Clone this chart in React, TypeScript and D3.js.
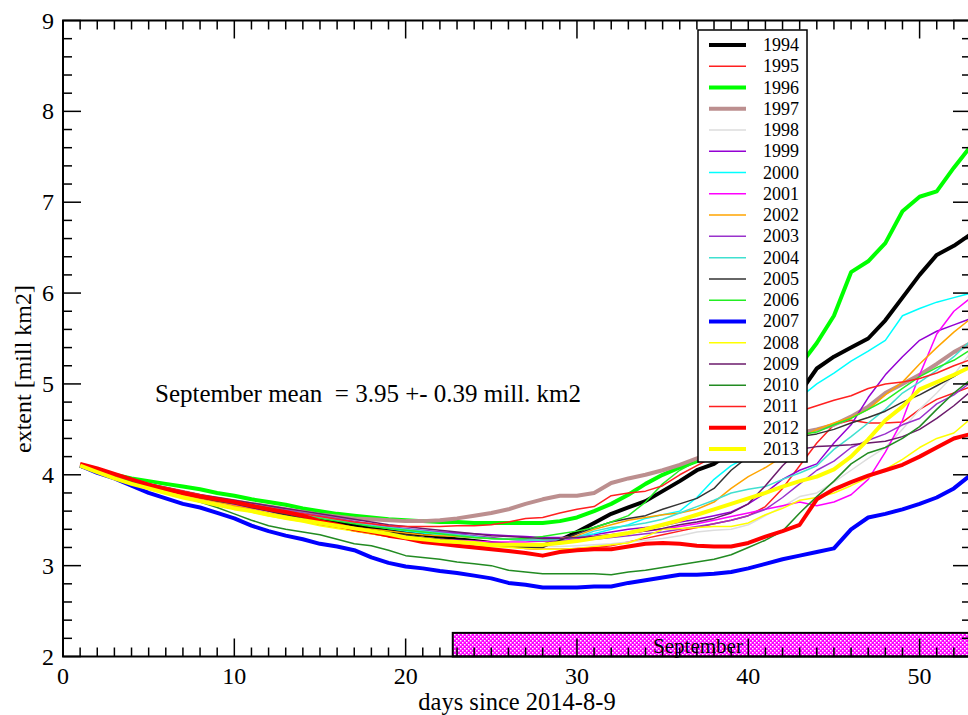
import React from "react";
import * as d3 from "d3";

// days since 2014-8-9, one value per day 1..53
const days = d3.range(1, 54);

const years = ["1994", "1995", "1996", "1997", "1998", "1999", "2000", "2001", "2002", "2003",
  "2004", "2005", "2006", "2007", "2008", "2009", "2010", "2011", "2012", "2013"];

const colors = ["#000000", "#ff2020", "#00ff00", "#bc8f8f", "#dddddd", "#9400d3", "#00ffff", "#ff00ff", "#ffa500", "#9932cc",
  "#40e0d0", "#333333", "#22ee22", "#0000ff", "#ffff00", "#6b1a6b", "#228b22", "#ff2020", "#ff0000", "#ffff00"];

const thick = ["1994", "1996", "1997", "2007", "2012", "2013"];

// extent [mill km2]
const v1994 = [4.10, 4.04, 3.98, 3.93, 3.88, 3.84, 3.80, 3.76, 3.73, 3.70, 3.66, 3.62, 3.58, 3.54, 3.50, 3.47, 3.44, 3.41, 3.39, 3.36,
  3.34, 3.31, 3.29, 3.27, 3.25, 3.23, 3.22, 3.22, 3.28, 3.37, 3.47, 3.57, 3.64, 3.71, 3.82, 3.93, 4.05, 4.12, 4.25, 4.40,
  4.55, 4.72, 4.90, 5.17, 5.30, 5.40, 5.50, 5.70, 5.95, 6.20, 6.42, 6.52, 6.65];
const v1995 = [4.10, 4.03, 3.96, 3.90, 3.85, 3.81, 3.77, 3.73, 3.69, 3.65, 3.61, 3.57, 3.53, 3.49, 3.45, 3.42, 3.38, 3.35, 3.32, 3.30,
  3.28, 3.26, 3.25, 3.24, 3.22, 3.21, 3.19, 3.18, 3.18, 3.19, 3.20, 3.22, 3.26, 3.30, 3.34, 3.38, 3.42, 3.46, 3.50, 3.55,
  3.65, 3.85, 4.10, 4.35, 4.55, 4.60, 4.57, 4.57, 4.58, 4.72, 4.83, 4.90, 4.97];
const v1996 = [4.10, 4.05, 4.00, 3.96, 3.93, 3.90, 3.87, 3.84, 3.80, 3.77, 3.73, 3.70, 3.67, 3.63, 3.60, 3.57, 3.55, 3.53, 3.51, 3.50,
  3.49, 3.48, 3.48, 3.47, 3.47, 3.47, 3.47, 3.47, 3.49, 3.53, 3.60, 3.68, 3.78, 3.90, 4.00, 4.08, 4.15, 4.21, 4.30, 4.45,
  4.65, 4.90, 5.20, 5.45, 5.75, 6.23, 6.35, 6.55, 6.90, 7.06, 7.12, 7.38, 7.62];
const v1997 = [4.10, 4.05, 3.99, 3.94, 3.89, 3.85, 3.81, 3.77, 3.74, 3.71, 3.68, 3.65, 3.62, 3.59, 3.56, 3.54, 3.52, 3.51, 3.50, 3.49,
  3.49, 3.50, 3.52, 3.55, 3.58, 3.62, 3.68, 3.73, 3.77, 3.77, 3.80, 3.91, 3.96, 4.00, 4.05, 4.11, 4.18, 4.24, 4.30, 4.34,
  4.38, 4.42, 4.46, 4.50, 4.55, 4.64, 4.75, 4.90, 5.00, 5.10, 5.22, 5.35, 5.45];
const v1998 = [4.10, 4.03, 3.97, 3.91, 3.86, 3.81, 3.77, 3.73, 3.69, 3.66, 3.62, 3.58, 3.54, 3.51, 3.47, 3.44, 3.41, 3.38, 3.35, 3.33,
  3.31, 3.29, 3.27, 3.25, 3.24, 3.23, 3.22, 3.21, 3.21, 3.22, 3.23, 3.24, 3.26, 3.28, 3.30, 3.33, 3.37, 3.39, 3.40, 3.45,
  3.55, 3.65, 3.76, 3.80, 3.92, 4.05, 4.18, 4.30, 4.50, 4.72, 4.90, 5.10, 5.35];
const v1999 = [4.10, 4.04, 3.98, 3.93, 3.88, 3.84, 3.80, 3.76, 3.72, 3.69, 3.66, 3.63, 3.60, 3.56, 3.53, 3.50, 3.47, 3.44, 3.42, 3.40,
  3.38, 3.37, 3.36, 3.35, 3.34, 3.33, 3.32, 3.31, 3.31, 3.32, 3.34, 3.37, 3.40, 3.42, 3.44, 3.48, 3.51, 3.55, 3.59, 3.68,
  3.80, 3.95, 4.05, 4.12, 4.35, 4.55, 4.85, 5.10, 5.30, 5.48, 5.58, 5.65, 5.72];
const v2000 = [4.10, 4.04, 3.98, 3.93, 3.89, 3.85, 3.81, 3.77, 3.73, 3.70, 3.67, 3.63, 3.60, 3.56, 3.53, 3.50, 3.47, 3.44, 3.41, 3.38,
  3.36, 3.34, 3.32, 3.31, 3.30, 3.29, 3.29, 3.29, 3.30, 3.32, 3.35, 3.40, 3.45, 3.52, 3.56, 3.60, 3.75, 3.95, 4.10, 4.20,
  4.40, 4.65, 4.85, 5.00, 5.12, 5.25, 5.36, 5.48, 5.75, 5.83, 5.90, 5.95, 6.00];
const v2001 = [4.10, 4.03, 3.97, 3.92, 3.87, 3.82, 3.78, 3.74, 3.70, 3.67, 3.63, 3.60, 3.56, 3.52, 3.48, 3.45, 3.41, 3.38, 3.35, 3.33,
  3.31, 3.29, 3.28, 3.27, 3.26, 3.26, 3.26, 3.27, 3.28, 3.30, 3.32, 3.34, 3.36, 3.38, 3.40, 3.43, 3.46, 3.50, 3.54, 3.58,
  3.62, 3.66, 3.70, 3.66, 3.70, 3.78, 3.95, 4.25, 4.60, 5.10, 5.55, 5.80, 5.95];
const v2002 = [4.10, 4.04, 3.98, 3.92, 3.87, 3.82, 3.78, 3.74, 3.70, 3.66, 3.62, 3.58, 3.55, 3.51, 3.48, 3.45, 3.42, 3.40, 3.38, 3.36,
  3.34, 3.33, 3.32, 3.31, 3.30, 3.29, 3.28, 3.28, 3.30, 3.33, 3.40, 3.45, 3.50, 3.53, 3.56, 3.58, 3.62, 3.70, 3.85, 3.98,
  4.08, 4.20, 4.40, 4.50, 4.57, 4.63, 4.72, 4.88, 5.02, 5.22, 5.40, 5.57, 5.72];
const v2003 = [4.10, 4.04, 3.99, 3.94, 3.89, 3.85, 3.81, 3.77, 3.74, 3.71, 3.68, 3.65, 3.61, 3.58, 3.55, 3.52, 3.49, 3.46, 3.43, 3.41,
  3.39, 3.37, 3.35, 3.33, 3.31, 3.29, 3.28, 3.27, 3.27, 3.28, 3.29, 3.31, 3.33, 3.35, 3.37, 3.40, 3.43, 3.46, 3.50, 3.55,
  3.62, 3.75, 3.90, 4.05, 4.15, 4.30, 4.38, 4.45, 4.55, 4.62, 4.78, 4.88, 5.02];
const v2004 = [4.10, 4.04, 3.99, 3.94, 3.89, 3.85, 3.81, 3.77, 3.74, 3.71, 3.68, 3.64, 3.60, 3.57, 3.53, 3.50, 3.47, 3.44, 3.42, 3.40,
  3.38, 3.36, 3.34, 3.32, 3.30, 3.29, 3.28, 3.28, 3.29, 3.31, 3.38, 3.42, 3.44, 3.47, 3.51, 3.58, 3.65, 3.72, 3.80, 3.84,
  3.87, 3.95, 4.02, 4.10, 4.28, 4.42, 4.57, 4.72, 4.90, 5.02, 5.15, 5.30, 5.48];
const v2005 = [4.10, 4.04, 3.98, 3.93, 3.88, 3.83, 3.79, 3.75, 3.71, 3.68, 3.64, 3.60, 3.56, 3.52, 3.48, 3.45, 3.42, 3.39, 3.36, 3.34,
  3.31, 3.29, 3.27, 3.25, 3.23, 3.21, 3.20, 3.20, 3.28, 3.35, 3.42, 3.48, 3.52, 3.55, 3.62, 3.68, 3.74, 3.85, 4.05, 4.20,
  4.30, 4.37, 4.42, 4.45, 4.50, 4.57, 4.63, 4.70, 4.80, 4.88, 4.98, 5.08, 5.20];
const v2006 = [4.10, 4.04, 3.98, 3.93, 3.88, 3.84, 3.80, 3.76, 3.72, 3.69, 3.65, 3.62, 3.58, 3.55, 3.52, 3.49, 3.46, 3.43, 3.41, 3.39,
  3.37, 3.35, 3.33, 3.31, 3.30, 3.29, 3.30, 3.32, 3.35, 3.38, 3.42, 3.48, 3.55, 3.70, 3.90, 4.05, 4.15, 4.20, 4.25, 4.30,
  4.35, 4.40, 4.44, 4.47, 4.55, 4.62, 4.72, 4.82, 4.95, 5.08, 5.18, 5.26, 5.38];
const v2007 = [4.10, 4.02, 3.96, 3.88, 3.80, 3.74, 3.68, 3.64, 3.58, 3.52, 3.44, 3.38, 3.33, 3.29, 3.24, 3.21, 3.17, 3.09, 3.03, 2.99,
  2.97, 2.94, 2.92, 2.89, 2.86, 2.81, 2.79, 2.76, 2.76, 2.76, 2.77, 2.77, 2.81, 2.84, 2.87, 2.90, 2.90, 2.91, 2.93, 2.97,
  3.02, 3.07, 3.11, 3.15, 3.19, 3.40, 3.53, 3.57, 3.62, 3.68, 3.75, 3.85, 4.00];
const v2008 = [4.10, 4.03, 3.96, 3.90, 3.84, 3.79, 3.75, 3.71, 3.67, 3.63, 3.59, 3.55, 3.51, 3.48, 3.44, 3.41, 3.38, 3.35, 3.32, 3.30,
  3.28, 3.26, 3.24, 3.22, 3.21, 3.20, 3.19, 3.18, 3.18, 3.19, 3.21, 3.23, 3.25, 3.32, 3.40, 3.41, 3.42, 3.43, 3.43, 3.47,
  3.56, 3.63, 3.72, 3.75, 3.80, 3.88, 3.97, 4.06, 4.17, 4.30, 4.40, 4.46, 4.62];
const v2009 = [4.10, 4.04, 3.99, 3.94, 3.90, 3.86, 3.82, 3.78, 3.75, 3.72, 3.69, 3.66, 3.63, 3.60, 3.57, 3.54, 3.51, 3.48, 3.45, 3.43,
  3.41, 3.39, 3.37, 3.35, 3.33, 3.32, 3.31, 3.30, 3.30, 3.31, 3.32, 3.34, 3.36, 3.38, 3.41, 3.45, 3.48, 3.52, 3.58, 3.68,
  3.88, 4.10, 4.28, 4.31, 4.32, 4.33, 4.35, 4.37, 4.42, 4.50, 4.62, 4.76, 4.92];
const v2010 = [4.10, 4.04, 3.99, 3.93, 3.87, 3.80, 3.75, 3.70, 3.64, 3.57, 3.50, 3.44, 3.40, 3.37, 3.34, 3.29, 3.24, 3.22, 3.17, 3.11,
  3.09, 3.07, 3.04, 3.02, 3.00, 2.95, 2.93, 2.91, 2.91, 2.91, 2.91, 2.90, 2.93, 2.95, 2.98, 3.01, 3.04, 3.07, 3.12, 3.20,
  3.28, 3.38, 3.58, 3.76, 3.93, 4.12, 4.24, 4.30, 4.40, 4.53, 4.72, 4.90, 5.05];
const v2011 = [4.10, 4.04, 3.99, 3.94, 3.90, 3.86, 3.82, 3.78, 3.74, 3.71, 3.67, 3.64, 3.60, 3.57, 3.54, 3.51, 3.48, 3.46, 3.44, 3.43,
  3.43, 3.43, 3.44, 3.44, 3.45, 3.48, 3.52, 3.53, 3.58, 3.62, 3.65, 3.77, 3.80, 3.82, 3.88, 4.00, 4.10, 4.20, 4.30, 4.40,
  4.50, 4.58, 4.70, 4.76, 4.82, 4.87, 4.95, 5.00, 5.02, 5.06, 5.12, 5.20, 5.27];
const v2012 = [4.12, 4.07, 4.01, 3.95, 3.89, 3.84, 3.80, 3.76, 3.73, 3.70, 3.66, 3.62, 3.59, 3.55, 3.49, 3.45, 3.40, 3.37, 3.33, 3.30,
  3.26, 3.24, 3.22, 3.20, 3.18, 3.16, 3.14, 3.11, 3.15, 3.17, 3.18, 3.18, 3.21, 3.24, 3.25, 3.24, 3.22, 3.21, 3.21, 3.25,
  3.32, 3.38, 3.45, 3.73, 3.84, 3.92, 3.99, 4.05, 4.11, 4.20, 4.30, 4.40, 4.45];
const v2013 = [4.10, 4.03, 3.96, 3.90, 3.85, 3.80, 3.75, 3.71, 3.67, 3.63, 3.60, 3.56, 3.53, 3.50, 3.47, 3.44, 3.41, 3.38, 3.35, 3.31,
  3.29, 3.27, 3.26, 3.25, 3.23, 3.23, 3.23, 3.23, 3.25, 3.27, 3.30, 3.33, 3.36, 3.40, 3.45, 3.50, 3.56, 3.62, 3.68, 3.74,
  3.80, 3.87, 3.93, 3.98, 4.06, 4.20, 4.39, 4.60, 4.75, 4.94, 5.02, 5.10, 5.19];

const values = [v1994, v1995, v1996, v1997, v1998, v1999, v2000, v2001, v2002, v2003,
  v2004, v2005, v2006, v2007, v2008, v2009, v2010, v2011, v2012, v2013];

const xTicks = [0, 10, 20, 30, 40, 50];
const yTicks = [2, 3, 4, 5, 6, 7, 8, 9];
const septStart = 22.75;
const meanText = "September mean  = 3.95 +- 0.39 mill. km2";

const App = () => {
  const ref = React.useRef(null);

  React.useEffect(() => {
    const width = 968;
    const height = 715;
    const left = 63, right = 971, top = 20.5, bottom = 656.5;
    const font = "'Liberation Serif', 'Times New Roman', serif";

    const svg = d3.select(ref.current);
    svg.selectAll("*").remove();

    const x = d3.scaleLinear().domain([0, 53]).range([left, right]);
    const y = d3.scaleLinear().domain([2, 9]).range([bottom, top]);

    // pattern for september bar
    const pat = svg.append("defs").append("pattern")
      .attr("id", "dots")
      .attr("width", 4).attr("height", 4)
      .attr("patternUnits", "userSpaceOnUse");
    pat.append("rect").attr("width", 4).attr("height", 4).attr("fill", "#ff00ff");
    pat.append("rect").attr("x", 0).attr("y", 0).attr("width", 1.5).attr("height", 1.5).attr("fill", "#fff");
    pat.append("rect").attr("x", 2).attr("y", 2).attr("width", 1.5).attr("height", 1.5).attr("fill", "#fff");

    svg.append("rect").attr("width", width).attr("height", height).attr("fill", "#fff");

    // series
    const line = d3.line<number>()
      .x((d, i) => x(days[i]))
      .y(d => y(d));

    svg.append("g")
      .selectAll("path")
      .data(values)
      .join("path")
      .attr("fill", "none")
      .attr("stroke", (d, i) => colors[i])
      .attr("stroke-width", (d, i) => thick.includes(years[i]) ? 4 : 1.5)
      .attr("stroke-linejoin", "round")
      .attr("d", d => line(d));

    // september bar
    svg.append("rect")
      .attr("x", x(septStart))
      .attr("y", y(2.26))
      .attr("width", right - x(septStart))
      .attr("height", y(2) - y(2.26))
      .attr("fill", "url(#dots)")
      .attr("stroke", "#000")
      .attr("stroke-width", 2);
    svg.append("text")
      .attr("x", 698).attr("y", y(2) - 4)
      .attr("text-anchor", "middle")
      .attr("font-family", font).attr("font-size", 21)
      .text("September");

    // frame
    svg.append("rect")
      .attr("x", left).attr("y", top)
      .attr("width", right - left).attr("height", bottom - top)
      .attr("fill", "none").attr("stroke", "#000").attr("stroke-width", 2);

    // ticks (inward, all four sides)
    const xMinor = d3.range(0, 54);
    const yMinor = d3.range(2, 9.01, 0.2);
    const ticks = svg.append("g").attr("stroke", "#000").attr("stroke-width", 1.5);
    xMinor.forEach(d => {
      const len = d % 10 === 0 ? 18 : 9;
      ticks.append("line").attr("x1", x(d)).attr("x2", x(d)).attr("y1", bottom).attr("y2", bottom - len);
      ticks.append("line").attr("x1", x(d)).attr("x2", x(d)).attr("y1", top).attr("y2", top + len);
    });
    yMinor.forEach(d => {
      const major = Math.abs(d - Math.round(d)) < 1e-6;
      const len = major ? 18 : 9;
      ticks.append("line").attr("x1", left).attr("x2", left + len).attr("y1", y(d)).attr("y2", y(d));
      ticks.append("line").attr("x1", right).attr("x2", right - len).attr("y1", y(d)).attr("y2", y(d));
    });

    // tick labels
    svg.append("g").selectAll("text")
      .data(xTicks).join("text")
      .attr("x", d => x(d)).attr("y", 684)
      .attr("text-anchor", "middle")
      .attr("font-family", font).attr("font-size", 24)
      .text(d => d);
    svg.append("g").selectAll("text")
      .data(yTicks).join("text")
      .attr("x", 54).attr("y", d => y(d) + 8)
      .attr("text-anchor", "end")
      .attr("font-family", font).attr("font-size", 24)
      .text(d => d);

    // axis titles
    svg.append("text")
      .attr("x", 517).attr("y", 710)
      .attr("text-anchor", "middle")
      .attr("font-family", font).attr("font-size", 24.5)
      .text("days since 2014-8-9");
    svg.append("text")
      .attr("transform", `translate(31,369) rotate(-90)`)
      .attr("text-anchor", "middle")
      .attr("font-family", font).attr("font-size", 24)
      .text("extent [mill km2]");

    svg.append("text")
      .attr("x", 155).attr("y", 402)
      .attr("font-family", font).attr("font-size", 25)
      .attr("xml:space", "preserve")
      .style("white-space", "pre")
      .text(meanText);

    // legend
    const lg = svg.append("g");
    lg.append("rect")
      .attr("x", 698).attr("y", 30).attr("width", 109).attr("height", 432)
      .attr("fill", "#fff").attr("stroke", "#000").attr("stroke-width", 1.5);
    const ly = d3.scalePoint().domain(years).range([45, 449]);
    const row = lg.selectAll("g.row").data(years).join("g")
      .attr("class", "row")
      .attr("transform", d => `translate(0,${ly(d)})`);
    row.append("line")
      .attr("x1", 709).attr("x2", 746)
      .attr("stroke", (d, i) => colors[i])
      .attr("stroke-width", d => thick.includes(d) ? 4 : 1.5);
    row.append("text")
      .attr("x", 763).attr("y", 6)
      .attr("font-family", font).attr("font-size", 18)
      .text(d => d);
  }, []);

  return (
    <svg
      ref={ref}
      width={968}
      height={715}
      style={{ position: "absolute", left: 0, top: 0, display: "block" }}
    />
  );
};

export default App;
